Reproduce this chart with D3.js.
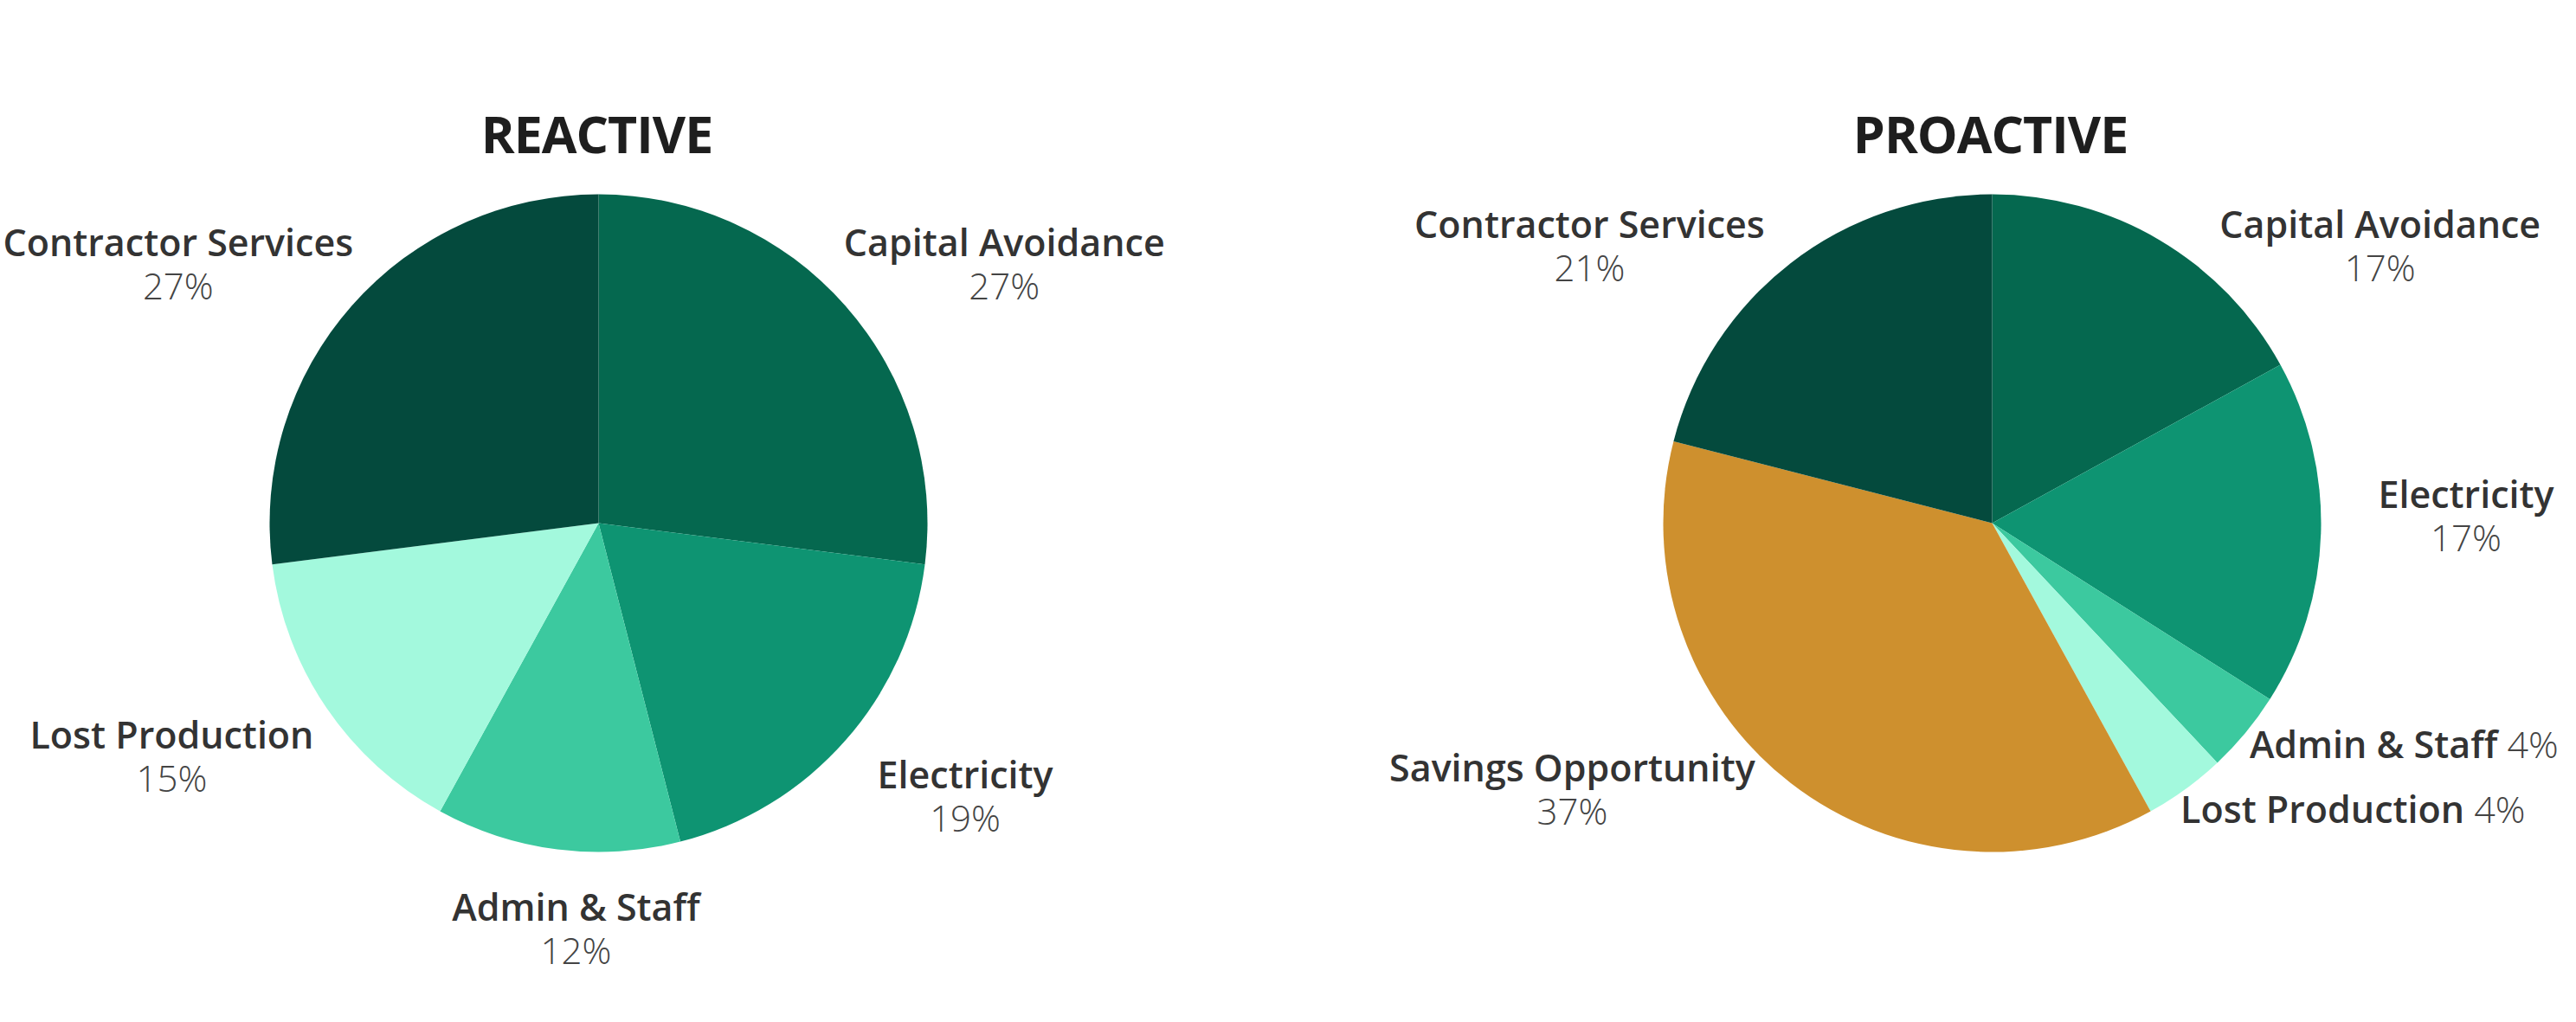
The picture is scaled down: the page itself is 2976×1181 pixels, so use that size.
<!DOCTYPE html>
<html>
<head>
<meta charset="utf-8">
<script src="https://cdn.jsdelivr.net/npm/d3@7"></script>
<style>
  html, body { margin: 0; padding: 0; background: #ffffff; }
  svg { display: block; }
</style>
</head>
<body>
<svg id="chart" width="2976" height="1181"></svg>
<script>
// ---------------- DATA ----------------
const chartTitles = ["REACTIVE", "PROACTIVE"];

const reactiveCategories = ["Capital Avoidance", "Electricity", "Admin & Staff", "Lost Production", "Contractor Services"];
const reactiveValues     = [27, 19, 12, 15, 27];

const proactiveCategories = ["Capital Avoidance", "Electricity", "Admin & Staff", "Lost Production", "Savings Opportunity", "Contractor Services"];
const proactiveValues     = [17, 17, 4, 4, 37, 21];

const categoryColors = {
  "Contractor Services": "#044a3d",
  "Capital Avoidance":   "#05684f",
  "Electricity":         "#0e9472",
  "Admin & Staff":       "#3cc99f",
  "Lost Production":     "#a3f9dd",
  "Savings Opportunity": "#ce902e"
};

// ---------------- LAYOUT ----------------
const W = 2976, H = 1181;
const layout = { cy: 604.5, radius: 380, titleY: 177, labelTop: 240 };
const chartLayouts = [
  { cx: 691.5,  labelShift: 9,   labelBottom: 1181 },
  { cx: 2301.5, labelShift: -22, labelBottom: 958 }
];

const svg = d3.select("#chart");

const datasets = [
  { title: chartTitles[0], cats: reactiveCategories, vals: reactiveValues },
  { title: chartTitles[1], cats: proactiveCategories, vals: proactiveValues }
];

const pie = d3.pie().sort(null).value(d => d.value).startAngle(0).endAngle(2 * Math.PI);
const arc = d3.arc().innerRadius(0).outerRadius(layout.radius);

datasets.forEach((ds, i) => {
  const cl = chartLayouts[i];
  const cx = cl.cx, cy = layout.cy, R = layout.radius;
  const data = ds.cats.map((c, j) => ({ name: c, value: ds.vals[j] }));
  const sum = d3.sum(ds.vals);

  const g = svg.append("g").attr("transform", `translate(${cx},${cy})`);

  // title
  svg.append("text")
    .attr("x", cx - 2).attr("y", layout.titleY)
    .attr("text-anchor", "middle")
    .style("font-family", "'Open Sans', sans-serif")
    .style("font-weight", 700)
    .style("font-size", "59px")
    .style("letter-spacing", "-1px")
    .style("fill", "#1e1e1e")
    .text(ds.title);

  const arcs = pie(data);

  g.selectAll("path.slice")
    .data(arcs)
    .join("path")
    .attr("class", "slice")
    .attr("d", arc)
    .attr("fill", d => categoryColors[d.data.name]);

  // labels
  arcs.forEach(a => {
    const theta = (a.startAngle + a.endAngle) / 2;
    const ux = Math.sin(theta), uy = -Math.cos(theta);
    const pct = Math.round(a.data.value / sum * 100) + "%";
    const single = a.data.value < 5;

    const lg = g.append("g").attr("class", "label");
    let t1, t2, w;
    if (single) {
      t1 = lg.append("text").attr("text-anchor", "middle")
        .style("font-family", "'Open Sans', sans-serif").style("font-size", "43px");
      t1.append("tspan").style("font-weight", 600).style("fill", "#333333").text(a.data.name);
      t1.append("tspan").style("font-weight", 300).style("fill", "#444444").text(" " + pct);
      w = t1.node().getComputedTextLength();
    } else {
      t1 = lg.append("text").attr("text-anchor", "middle")
        .style("font-family", "'Open Sans', sans-serif").style("font-size", "43px")
        .style("font-weight", 600).style("fill", "#333333").text(a.data.name);
      t2 = lg.append("text").attr("text-anchor", "middle")
        .style("font-family", "'Open Sans', sans-serif").style("font-size", "42px")
        .style("font-weight", 300).style("fill", "#444444").text(pct);
      w = Math.max(t1.node().getComputedTextLength(), t2.node().getComputedTextLength());
    }
    const hw = w / 2;
    const hh = single ? 20 : 45;

    // vertical position
    let yc = (R + 35) * uy + hh * uy * 1.1 + cl.labelShift;
    const topRel = layout.labelTop - cy, botRel = cl.labelBottom - cy;
    if (yc - hh < topRel) yc = topRel + hh;
    if (yc + hh > botRel) yc = botRel - hh;

    // horizontal position
    let xc;
    if (Math.abs(ux) >= 0.35) {
      const side = Math.sign(ux);
      let ynear = 0;
      if (yc - hh > 0) ynear = yc - hh; else if (yc + hh < 0) ynear = yc + hh;
      const xmin = Math.abs(ynear) < R ? Math.sqrt(R * R - ynear * ynear) : 0;
      const c = Math.max((R + 117) * Math.abs(ux) + 0.5 * hw, xmin + hw);
      xc = side * c;
    } else {
      xc = (R + 35) * ux * 0.5;
    }

    if (single) {
      t1.attr("x", xc).attr("y", yc + 15);
    } else {
      t1.attr("x", xc).attr("y", yc - 10);
      t2.attr("x", xc).attr("y", yc + 40);
    }
  });
});
</script>
</body>
</html>
